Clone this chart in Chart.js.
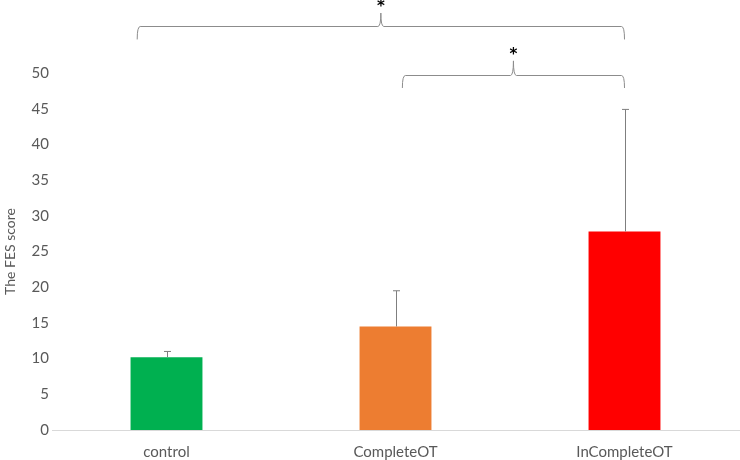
<!DOCTYPE html>
<html>
<head>
<meta charset="utf-8">
<script src="https://cdn.jsdelivr.net/npm/chart.js@4/dist/chart.umd.min.js"></script>
<style>
  html, body { margin: 0; padding: 0; background: #fff; }
  #wrap { width: 740px; height: 460px; }
</style>
</head>
<body>
<div id="wrap"><canvas id="chart1"></canvas></div>
<script>
const groups = ['control', 'CompleteOT', 'InCompleteOT'];
const scores = [10.2, 14.5, 27.8];
const errorTop = [11.0, 19.5, 44.9];
const barColors = ['#00B050', '#ED7D31', '#FF0000'];
const yTicks = [0, 5, 10, 15, 20, 25, 30, 35, 40, 45, 50];

// significance brackets: x in category index units, heights in score units
const bracketFrom = [-0.128, 1.03];
const bracketTo = [2.0, 2.0];
const bracketEnd = [54.7, 47.9];
const bracketLine = [56.6, 49.7];
const bracketPeak = [58.4, 51.7];
const bracketMark = ['*', '*'];

const errorBars = {
  id: 'errorBars',
  afterDatasetsDraw(chart) {
    const ctx = chart.ctx;
    const y = chart.scales.y;
    const meta = chart.getDatasetMeta(0);
    ctx.save();
    ctx.strokeStyle = '#7f7f7f';
    ctx.lineWidth = 1;
    meta.data.forEach((bar, i) => {
      const x = Math.round(bar.x) + 0.5;
      const top = y.getPixelForValue(errorTop[i]);
      ctx.beginPath();
      ctx.moveTo(x, bar.y);
      ctx.lineTo(x, top);
      ctx.moveTo(x - 3.5, top);
      ctx.lineTo(x + 3.5, top);
      ctx.stroke();
    });
    ctx.restore();
  }
};

const brackets = {
  id: 'brackets',
  afterDraw(chart) {
    const ctx = chart.ctx;
    const x = chart.scales.x;
    const y = chart.scales.y;
    ctx.save();
    ctx.strokeStyle = '#8c8c8c';
    ctx.lineWidth = 1;
    for (let i = 0; i < bracketFrom.length; i++) {
      const step = x.getPixelForValue(1) - x.getPixelForValue(0);
      const x1 = x.getPixelForValue(0) + step * bracketFrom[i];
      const x2 = x.getPixelForValue(0) + step * bracketTo[i];
      const mid = (x1 + x2) / 2;
      const yE = y.getPixelForValue(bracketEnd[i]);
      const yH = Math.round(y.getPixelForValue(bracketLine[i])) + 0.5;
      const yP = y.getPixelForValue(bracketPeak[i]);
      ctx.beginPath();
      ctx.moveTo(x1, yE);
      ctx.quadraticCurveTo(x1, yH, x1 + 3, yH);
      ctx.lineTo(mid - 3, yH);
      ctx.quadraticCurveTo(mid, yH, mid, yP);
      ctx.quadraticCurveTo(mid, yH, mid + 3, yH);
      ctx.lineTo(x2 - 3, yH);
      ctx.quadraticCurveTo(x2, yH, x2, yE);
      ctx.stroke();
      ctx.fillStyle = '#000';
      ctx.font = 'bold 15px "DejaVu Sans"';
      ctx.textAlign = 'center';
      ctx.textBaseline = 'middle';
      ctx.fillText(bracketMark[i], mid, yP - 6);
    }
    ctx.restore();
  }
};

const ctx1 = document.getElementById('chart1').getContext('2d');
const myChart1 = new Chart(ctx1, {
  type: 'bar',
  data: {
    labels: groups,
    datasets: [{
      data: scores,
      backgroundColor: barColors,
      borderWidth: 0,
      barPercentage: 0.314,
      categoryPercentage: 1
    }]
  },
  options: {
    responsive: true,
    maintainAspectRatio: false,
    animation: false,
    layout: { padding: { top: 73, right: 1, left: 0, bottom: 0 } },
    plugins: {
      legend: { display: false },
      tooltip: { enabled: false }
    },
    scales: {
      x: {
        grid: { display: false, drawTicks: false },
        border: { color: '#d9d9d9' },
        ticks: { color: '#595959', font: { family: 'Lato', size: 15 }, padding: 13 },
        afterFit(axis) { axis.height = 30; }
      },
      y: {
        min: 0,
        max: 50,
        afterBuildTicks(axis) { axis.ticks = yTicks.map(v => ({ value: v })); },
        grid: { display: false, drawTicks: false },
        border: { display: false },
        ticks: { color: '#595959', font: { family: 'Lato', size: 15 }, padding: 3 },
        title: {
          display: true,
          text: 'The FES score',
          color: '#595959',
          font: { family: 'Lato', size: 14 },
          padding: { top: 2, bottom: 6 }
        },
        afterFit(axis) { axis.width = 52; }
      }
    }
  },
  plugins: [errorBars, brackets]
});
</script>
</body>
</html>
